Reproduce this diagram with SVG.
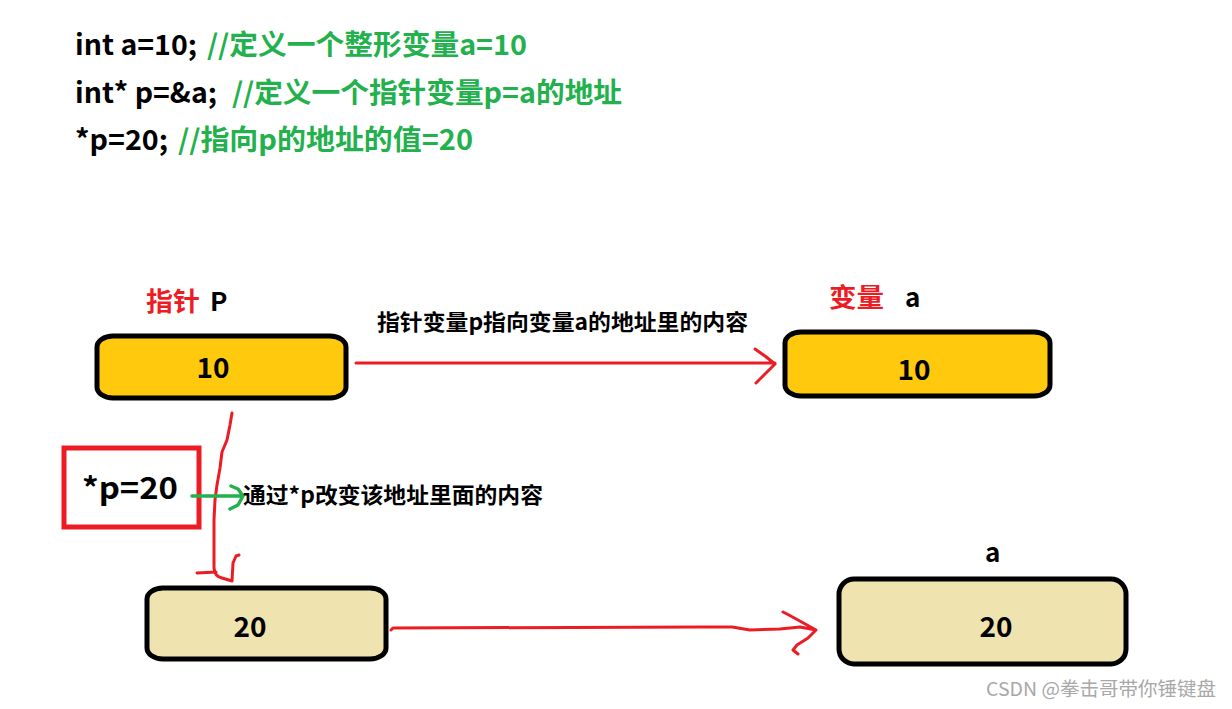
<svg xmlns="http://www.w3.org/2000/svg" width="1232" height="709" viewBox="0 0 1232 709">
<style>
text{font-family:"Noto Sans CJK SC","Microsoft YaHei","Noto Sans",sans-serif;font-weight:bold;}
.code{font-size:28px;fill:#000;}
.cmt{fill:#22B14C;}
.red{fill:#ED1C24;}
.lbl{font-size:26px;fill:#000;}
.val{font-size:28px;fill:#000;text-anchor:middle;}
.note{font-size:22px;fill:#000;}
.box{stroke:#000;stroke-width:5;}
.yel{fill:#FFC90E;}
.tan{fill:#EFE4B0;}
.rl{fill:none;stroke:#ED1C24;stroke-width:3;stroke-linecap:round;stroke-linejoin:round;}
.gl{fill:none;stroke:#22B14C;stroke-width:3.5;stroke-linecap:round;stroke-linejoin:round;}
.wm{font-family:"Noto Sans CJK SC","Noto Sans",sans-serif;font-weight:normal;font-size:19px;fill:#A8A8A8;}
</style>
<rect width="1232" height="709" fill="#fff"/>
<g id="code">
<text class="code" y="55"><tspan x="75" textLength="122" lengthAdjust="spacingAndGlyphs">int a=10;</tspan><tspan class="cmt" x="207" textLength="320" lengthAdjust="spacingAndGlyphs">//定义一个整形变量a=10</tspan></text>
<text class="code" y="103"><tspan x="75" textLength="142" lengthAdjust="spacingAndGlyphs">int* p=&amp;a;</tspan><tspan class="cmt" x="232" textLength="390" lengthAdjust="spacingAndGlyphs">//定义一个指针变量p=a的地址</tspan></text>
<text class="code" y="150"><tspan x="75" textLength="93" lengthAdjust="spacingAndGlyphs">*p=20;</tspan><tspan class="cmt" x="178" textLength="295" lengthAdjust="spacingAndGlyphs">//指向p的地址的值=20</tspan></text>
</g>
<g id="node-pointer-p">
<text class="lbl" y="311"><tspan class="red" x="146" textLength="54" lengthAdjust="spacingAndGlyphs">指针</tspan><tspan x="210">P</tspan></text>
<rect class="box yel" x="97" y="336" width="249" height="62" rx="16" ry="11"/>
<text class="val" x="213" y="378">10</text>
</g>
<g id="node-var-a">
<text class="lbl" y="307"><tspan class="red" x="829" textLength="55" lengthAdjust="spacingAndGlyphs">变量</tspan><tspan x="905">a</tspan></text>
<rect class="box yel" x="785" y="332" width="265" height="64" rx="16" ry="11"/>
<text class="val" x="914" y="380">10</text>
</g>
<g id="node-star-p">
<rect x="64" y="448" width="135" height="79" fill="none" stroke="#ED1C24" stroke-width="5"/>
<text x="82" y="499" font-size="30" fill="#000" textLength="96" lengthAdjust="spacingAndGlyphs">*p=20</text>
</g>
<g id="node-p-20">
<rect class="box tan" x="147" y="588" width="239" height="71" rx="16" ry="11"/>
<text class="val" x="250" y="637">20</text>
</g>
<g id="node-a-20">
<text class="lbl" x="985" y="562">a</text>
<rect class="box tan" x="839" y="579" width="287" height="85" rx="15" ry="15"/>
<text class="val" x="996" y="637">20</text>
</g>
<g id="connectors">
<path class="rl" d="M356,363 L775,363 M755,349 L765,356 L775,364 L766,373 L756,383"/>
<text class="note" x="377" y="330" textLength="371" lengthAdjust="spacingAndGlyphs">指针变量p指向变量a的地址里的内容</text>
<path class="rl" d="M232,413 L230,425 L227,440 L222,452 L220,468 L217,485 L215,500 L214,520 L214,568 Q215,577 222,578 L232,581 L233,563 L236,556 L239,555 M197,573 L216,572"/>
<path class="gl" d="M192,496 L243,496 M231,486 L238,489 L243,496 L238,505 L230,509"/>
<text class="note" x="243" y="503" textLength="300" lengthAdjust="spacingAndGlyphs">通过*p改变该地址里面的内容</text>
<path class="rl" d="M391,630 L393,628 L700,627 L732,627 L750,630 L780,629 L800,627 L816,630 M783,612 L787,614 L798,620 L816,630 L808,638 L797,645 L793,650 L798,654"/>
</g>
<text class="wm" x="986" y="696" textLength="230" lengthAdjust="spacingAndGlyphs">CSDN @拳击哥带你锤键盘</text>
</svg>
